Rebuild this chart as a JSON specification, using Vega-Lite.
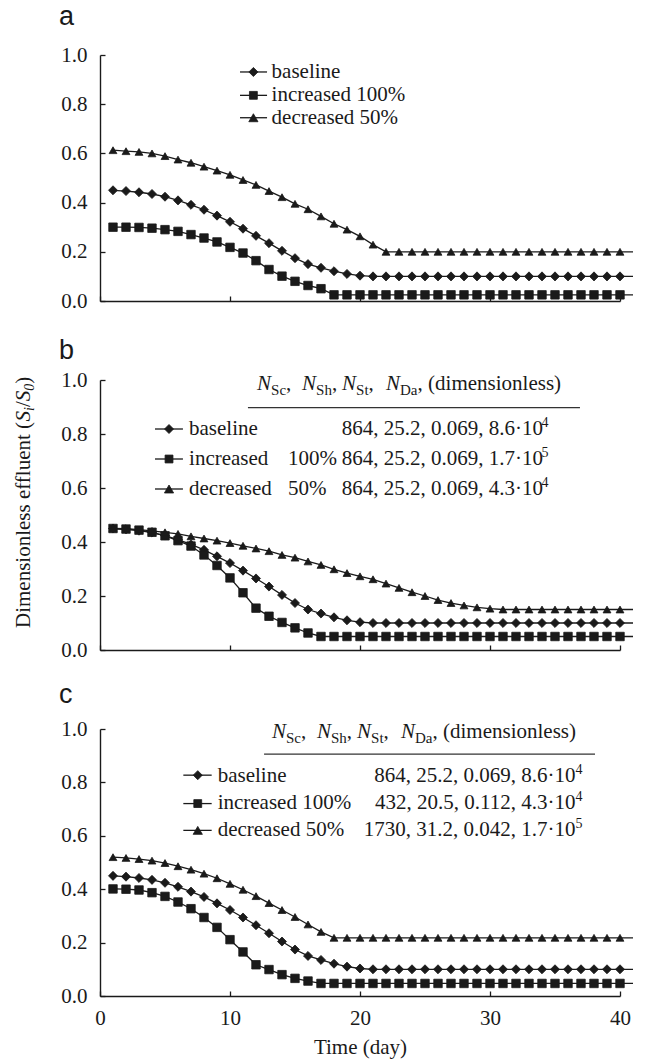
{
  "$schema": "https://vega.github.io/schema/vega-lite/v6.json",
  "background": "white",
  "padding": {"left": 13, "top": 2, "right": 5, "bottom": 5},
  "bounds": "flush",
  "spacing": 79,
  "resolve": {"scale": {"x": "independent", "y": "independent", "shape": "independent", "size": "independent"}},
  "config": {
    "view": {"stroke": null},
    "font": "Liberation Serif",
    "axis": {"grid": false, "domainColor": "#1a1a1a", "domainWidth": 1.4, "tickColor": "#1a1a1a", "tickWidth": 1.3, "tickSize": -5, "labelFont": "Liberation Serif", "labelFontSize": 21, "labelColor": "#1a1a1a", "labelPadding": 18, "labelFlush": false, "titleFont": "Liberation Serif", "titleFontSize": 21, "titleFontWeight": "normal", "titleColor": "#1a1a1a"},
    "axisX": {"labelPadding": 16, "titlePadding": 8},
    "text": {"font": "Liberation Serif", "fontSize": 21, "color": "#1a1a1a"}
  },
  "datasets": {
    "curves": [
      {"panel":"a","day":1,"baseline":0.45,"increased":0.3,"decreased":0.613},
      {"panel":"a","day":2,"baseline":0.447,"increased":0.3,"decreased":0.609},
      {"panel":"a","day":3,"baseline":0.442,"increased":0.299,"decreased":0.606},
      {"panel":"a","day":4,"baseline":0.435,"increased":0.296,"decreased":0.6},
      {"panel":"a","day":5,"baseline":0.424,"increased":0.29,"decreased":0.589},
      {"panel":"a","day":6,"baseline":0.409,"increased":0.283,"decreased":0.575},
      {"panel":"a","day":7,"baseline":0.391,"increased":0.27,"decreased":0.562},
      {"panel":"a","day":8,"baseline":0.371,"increased":0.256,"decreased":0.546},
      {"panel":"a","day":9,"baseline":0.347,"increased":0.24,"decreased":0.53},
      {"panel":"a","day":10,"baseline":0.322,"increased":0.218,"decreased":0.513},
      {"panel":"a","day":11,"baseline":0.294,"increased":0.195,"decreased":0.492},
      {"panel":"a","day":12,"baseline":0.265,"increased":0.164,"decreased":0.472},
      {"panel":"a","day":13,"baseline":0.235,"increased":0.128,"decreased":0.447},
      {"panel":"a","day":14,"baseline":0.204,"increased":0.101,"decreased":0.422},
      {"panel":"a","day":15,"baseline":0.174,"increased":0.08,"decreased":0.395},
      {"panel":"a","day":16,"baseline":0.15,"increased":0.063,"decreased":0.373},
      {"panel":"a","day":17,"baseline":0.135,"increased":0.05,"decreased":0.344},
      {"panel":"a","day":18,"baseline":0.121,"increased":0.025,"decreased":0.314},
      {"panel":"a","day":19,"baseline":0.11,"increased":0.025,"decreased":0.29},
      {"panel":"a","day":20,"baseline":0.103,"increased":0.025,"decreased":0.263},
      {"panel":"a","day":21,"baseline":0.1,"increased":0.025,"decreased":0.229},
      {"panel":"a","day":22,"baseline":0.1,"increased":0.025,"decreased":0.2},
      {"panel":"a","day":23,"baseline":0.1,"increased":0.025,"decreased":0.2},
      {"panel":"a","day":24,"baseline":0.1,"increased":0.025,"decreased":0.2},
      {"panel":"a","day":25,"baseline":0.1,"increased":0.025,"decreased":0.2},
      {"panel":"a","day":26,"baseline":0.1,"increased":0.025,"decreased":0.2},
      {"panel":"a","day":27,"baseline":0.1,"increased":0.025,"decreased":0.2},
      {"panel":"a","day":28,"baseline":0.1,"increased":0.025,"decreased":0.2},
      {"panel":"a","day":29,"baseline":0.1,"increased":0.025,"decreased":0.2},
      {"panel":"a","day":30,"baseline":0.1,"increased":0.025,"decreased":0.2},
      {"panel":"a","day":31,"baseline":0.1,"increased":0.025,"decreased":0.2},
      {"panel":"a","day":32,"baseline":0.1,"increased":0.025,"decreased":0.2},
      {"panel":"a","day":33,"baseline":0.1,"increased":0.025,"decreased":0.2},
      {"panel":"a","day":34,"baseline":0.1,"increased":0.025,"decreased":0.2},
      {"panel":"a","day":35,"baseline":0.1,"increased":0.025,"decreased":0.2},
      {"panel":"a","day":36,"baseline":0.1,"increased":0.025,"decreased":0.2},
      {"panel":"a","day":37,"baseline":0.1,"increased":0.025,"decreased":0.2},
      {"panel":"a","day":38,"baseline":0.1,"increased":0.025,"decreased":0.2},
      {"panel":"a","day":39,"baseline":0.1,"increased":0.025,"decreased":0.2},
      {"panel":"a","day":40,"baseline":0.1,"increased":0.025,"decreased":0.2},
      {"panel":"a","day":41,"baseline":0.1,"increased":0.025,"decreased":0.2},
      {"panel":"b","day":1,"baseline":0.45,"increased":0.45,"decreased":0.45},
      {"panel":"b","day":2,"baseline":0.447,"increased":0.448,"decreased":0.449},
      {"panel":"b","day":3,"baseline":0.442,"increased":0.444,"decreased":0.446},
      {"panel":"b","day":4,"baseline":0.435,"increased":0.436,"decreased":0.441},
      {"panel":"b","day":5,"baseline":0.424,"increased":0.423,"decreased":0.436},
      {"panel":"b","day":6,"baseline":0.409,"increased":0.405,"decreased":0.43},
      {"panel":"b","day":7,"baseline":0.391,"increased":0.385,"decreased":0.421},
      {"panel":"b","day":8,"baseline":0.371,"increased":0.352,"decreased":0.413},
      {"panel":"b","day":9,"baseline":0.347,"increased":0.313,"decreased":0.405},
      {"panel":"b","day":10,"baseline":0.322,"increased":0.267,"decreased":0.396},
      {"panel":"b","day":11,"baseline":0.294,"increased":0.212,"decreased":0.386},
      {"panel":"b","day":12,"baseline":0.265,"increased":0.155,"decreased":0.376},
      {"panel":"b","day":13,"baseline":0.235,"increased":0.125,"decreased":0.366},
      {"panel":"b","day":14,"baseline":0.204,"increased":0.102,"decreased":0.352},
      {"panel":"b","day":15,"baseline":0.174,"increased":0.082,"decreased":0.342},
      {"panel":"b","day":16,"baseline":0.15,"increased":0.063,"decreased":0.328},
      {"panel":"b","day":17,"baseline":0.135,"increased":0.05,"decreased":0.315},
      {"panel":"b","day":18,"baseline":0.121,"increased":0.05,"decreased":0.299},
      {"panel":"b","day":19,"baseline":0.11,"increased":0.05,"decreased":0.285},
      {"panel":"b","day":20,"baseline":0.103,"increased":0.05,"decreased":0.273},
      {"panel":"b","day":21,"baseline":0.1,"increased":0.05,"decreased":0.262},
      {"panel":"b","day":22,"baseline":0.1,"increased":0.05,"decreased":0.246},
      {"panel":"b","day":23,"baseline":0.1,"increased":0.05,"decreased":0.23},
      {"panel":"b","day":24,"baseline":0.1,"increased":0.05,"decreased":0.214},
      {"panel":"b","day":25,"baseline":0.1,"increased":0.05,"decreased":0.2},
      {"panel":"b","day":26,"baseline":0.1,"increased":0.05,"decreased":0.185},
      {"panel":"b","day":27,"baseline":0.1,"increased":0.05,"decreased":0.174},
      {"panel":"b","day":28,"baseline":0.1,"increased":0.05,"decreased":0.165},
      {"panel":"b","day":29,"baseline":0.1,"increased":0.05,"decreased":0.158},
      {"panel":"b","day":30,"baseline":0.1,"increased":0.05,"decreased":0.153},
      {"panel":"b","day":31,"baseline":0.1,"increased":0.05,"decreased":0.15},
      {"panel":"b","day":32,"baseline":0.1,"increased":0.05,"decreased":0.15},
      {"panel":"b","day":33,"baseline":0.1,"increased":0.05,"decreased":0.15},
      {"panel":"b","day":34,"baseline":0.1,"increased":0.05,"decreased":0.15},
      {"panel":"b","day":35,"baseline":0.1,"increased":0.05,"decreased":0.15},
      {"panel":"b","day":36,"baseline":0.1,"increased":0.05,"decreased":0.15},
      {"panel":"b","day":37,"baseline":0.1,"increased":0.05,"decreased":0.15},
      {"panel":"b","day":38,"baseline":0.1,"increased":0.05,"decreased":0.15},
      {"panel":"b","day":39,"baseline":0.1,"increased":0.05,"decreased":0.15},
      {"panel":"b","day":40,"baseline":0.1,"increased":0.05,"decreased":0.15},
      {"panel":"b","day":41,"baseline":0.1,"increased":0.05,"decreased":0.15},
      {"panel":"c","day":1,"baseline":0.45,"increased":0.401,"decreased":0.52},
      {"panel":"c","day":2,"baseline":0.447,"increased":0.4,"decreased":0.517},
      {"panel":"c","day":3,"baseline":0.442,"increased":0.397,"decreased":0.513},
      {"panel":"c","day":4,"baseline":0.435,"increased":0.387,"decreased":0.507},
      {"panel":"c","day":5,"baseline":0.424,"increased":0.373,"decreased":0.498},
      {"panel":"c","day":6,"baseline":0.409,"increased":0.352,"decreased":0.486},
      {"panel":"c","day":7,"baseline":0.391,"increased":0.327,"decreased":0.473},
      {"panel":"c","day":8,"baseline":0.371,"increased":0.294,"decreased":0.458},
      {"panel":"c","day":9,"baseline":0.347,"increased":0.257,"decreased":0.441},
      {"panel":"c","day":10,"baseline":0.322,"increased":0.211,"decreased":0.42},
      {"panel":"c","day":11,"baseline":0.294,"increased":0.165,"decreased":0.398},
      {"panel":"c","day":12,"baseline":0.265,"increased":0.117,"decreased":0.374},
      {"panel":"c","day":13,"baseline":0.235,"increased":0.099,"decreased":0.348},
      {"panel":"c","day":14,"baseline":0.204,"increased":0.08,"decreased":0.322},
      {"panel":"c","day":15,"baseline":0.174,"increased":0.066,"decreased":0.296},
      {"panel":"c","day":16,"baseline":0.15,"increased":0.056,"decreased":0.268},
      {"panel":"c","day":17,"baseline":0.135,"increased":0.047,"decreased":0.24},
      {"panel":"c","day":18,"baseline":0.121,"increased":0.047,"decreased":0.218},
      {"panel":"c","day":19,"baseline":0.11,"increased":0.047,"decreased":0.218},
      {"panel":"c","day":20,"baseline":0.103,"increased":0.047,"decreased":0.218},
      {"panel":"c","day":21,"baseline":0.1,"increased":0.047,"decreased":0.218},
      {"panel":"c","day":22,"baseline":0.1,"increased":0.047,"decreased":0.218},
      {"panel":"c","day":23,"baseline":0.1,"increased":0.047,"decreased":0.218},
      {"panel":"c","day":24,"baseline":0.1,"increased":0.047,"decreased":0.218},
      {"panel":"c","day":25,"baseline":0.1,"increased":0.047,"decreased":0.218},
      {"panel":"c","day":26,"baseline":0.1,"increased":0.047,"decreased":0.218},
      {"panel":"c","day":27,"baseline":0.1,"increased":0.047,"decreased":0.218},
      {"panel":"c","day":28,"baseline":0.1,"increased":0.047,"decreased":0.218},
      {"panel":"c","day":29,"baseline":0.1,"increased":0.047,"decreased":0.218},
      {"panel":"c","day":30,"baseline":0.1,"increased":0.047,"decreased":0.218},
      {"panel":"c","day":31,"baseline":0.1,"increased":0.047,"decreased":0.218},
      {"panel":"c","day":32,"baseline":0.1,"increased":0.047,"decreased":0.218},
      {"panel":"c","day":33,"baseline":0.1,"increased":0.047,"decreased":0.218},
      {"panel":"c","day":34,"baseline":0.1,"increased":0.047,"decreased":0.218},
      {"panel":"c","day":35,"baseline":0.1,"increased":0.047,"decreased":0.218},
      {"panel":"c","day":36,"baseline":0.1,"increased":0.047,"decreased":0.218},
      {"panel":"c","day":37,"baseline":0.1,"increased":0.047,"decreased":0.218},
      {"panel":"c","day":38,"baseline":0.1,"increased":0.047,"decreased":0.218},
      {"panel":"c","day":39,"baseline":0.1,"increased":0.047,"decreased":0.218},
      {"panel":"c","day":40,"baseline":0.1,"increased":0.047,"decreased":0.218},
      {"panel":"c","day":41,"baseline":0.1,"increased":0.047,"decreased":0.218}
    ]
  },
  "vconcat": [
    {
      "width": 520, "height": 246,
      "data": {"values": [{}]},
      "layer": [
        {
          "data": {"name": "curves"},
          "transform": [{"filter": "datum.panel === 'a'"}, {"fold": ["baseline", "increased", "decreased"], "as": ["series", "value"]}],
          "encoding": {
            "x": {"field": "day", "type": "quantitative", "scale": {"domain": [0, 40], "nice": false, "zero": false}, "axis": {"values": [0, 10, 20, 30, 40], "labels": false, "title": null}},
            "y": {"field": "value", "type": "quantitative", "scale": {"domain": [0, 1], "nice": false}, "axis": {"values": [0, 0.2, 0.4, 0.6, 0.8, 1], "format": ".1f", "title": null}}
          },
          "layer": [
            {"mark": {"type": "line", "color": "#1a1a1a", "strokeWidth": 1.3}, "encoding": {"detail": {"field": "series"}}},
            {"transform": [{"filter": "datum.day <= 40"}], "mark": {"type": "point", "filled": true, "opacity": 1, "color": "#1a1a1a", "stroke": "#1a1a1a", "strokeWidth": 0.8}, "encoding": {"shape": {"field": "series", "scale": {"domain": ["baseline", "increased", "decreased"], "range": ["diamond", "square", "triangle-up"]}, "legend": null}, "size": {"field": "series", "scale": {"domain": ["baseline", "increased", "decreased"], "range": [82, 62, 85]}, "legend": null}}}
          ]
        },
        {"mark": {"type": "text", "font": "Liberation Sans", "fontSize": 27, "align": "left", "baseline": "alphabetic"}, "encoding": {"x": {"datum": -3.15}, "y": {"datum": 1.122}, "text": {"value": "a"}}},
        {"mark": {"type": "rule", "color": "#1a1a1a", "strokeWidth": 1.3}, "encoding": {"x": {"datum": 10.77}, "x2": {"datum": 12.85}, "y": {"datum": 0.931}}},
        {"mark": {"type": "rule", "color": "#1a1a1a", "strokeWidth": 1.3}, "encoding": {"x": {"datum": 10.77}, "x2": {"datum": 12.85}, "y": {"datum": 0.836}}},
        {"mark": {"type": "rule", "color": "#1a1a1a", "strokeWidth": 1.3}, "encoding": {"x": {"datum": 10.77}, "x2": {"datum": 12.85}, "y": {"datum": 0.745}}},
        {"mark": {"type": "point", "shape": "diamond", "filled": true, "opacity": 1, "size": 82, "color": "#1a1a1a", "stroke": "#1a1a1a", "strokeWidth": 0.8}, "encoding": {"x": {"datum": 11.8}, "y": {"datum": 0.931}}},
        {"mark": {"type": "point", "shape": "square", "filled": true, "opacity": 1, "size": 62, "color": "#1a1a1a", "stroke": "#1a1a1a", "strokeWidth": 0.8}, "encoding": {"x": {"datum": 11.8}, "y": {"datum": 0.836}}},
        {"mark": {"type": "point", "shape": "triangle-up", "filled": true, "opacity": 1, "size": 85, "color": "#1a1a1a", "stroke": "#1a1a1a", "strokeWidth": 0.8}, "encoding": {"x": {"datum": 11.8}, "y": {"datum": 0.745}}},
        {"mark": {"type": "text", "align": "left", "baseline": "alphabetic", "lineHeight": 22.8}, "encoding": {"x": {"datum": 13.2}, "y": {"datum": 0.9065}, "text": {"value": ["baseline", "increased 100%", "decreased 50%"]}}}
      ]
    },
    {
      "width": 520, "height": 270,
      "data": {"values": [{}]},
      "layer": [
        {
          "data": {"name": "curves"},
          "transform": [{"filter": "datum.panel === 'b'"}, {"fold": ["baseline", "increased", "decreased"], "as": ["series", "value"]}],
          "encoding": {
            "x": {"field": "day", "type": "quantitative", "scale": {"domain": [0, 40], "nice": false, "zero": false}, "axis": {"values": [0, 10, 20, 30, 40], "labels": false, "title": null}},
            "y": {"field": "value", "type": "quantitative", "scale": {"domain": [0, 1], "nice": false}, "axis": {"values": [0, 0.2, 0.4, 0.6, 0.8, 1], "format": ".1f", "title": null}}
          },
          "layer": [
            {"mark": {"type": "line", "color": "#1a1a1a", "strokeWidth": 1.3}, "encoding": {"detail": {"field": "series"}}},
            {"transform": [{"filter": "datum.day <= 40"}], "mark": {"type": "point", "filled": true, "opacity": 1, "color": "#1a1a1a", "stroke": "#1a1a1a", "strokeWidth": 0.8}, "encoding": {"shape": {"field": "series", "scale": {"domain": ["baseline", "increased", "decreased"], "range": ["diamond", "square", "triangle-up"]}, "legend": null}, "size": {"field": "series", "scale": {"domain": ["baseline", "increased", "decreased"], "range": [82, 62, 85]}, "legend": null}}}
          ]
        },
        {"mark": {"type": "text", "font": "Liberation Sans", "fontSize": 27, "align": "left", "baseline": "alphabetic"}, "encoding": {"x": {"datum": -3.15}, "y": {"datum": 1.0778}, "text": {"value": "b"}}},
        {"mark": {"type": "text", "angle": 270, "align": "left", "baseline": "alphabetic"}, "encoding": {"x": {"datum": -5.38}, "y": {"datum": 0.0815}, "text": {"value": "Dimensionless effluent ("}}},
        {"mark": {"type": "text", "angle": 270, "align": "left", "baseline": "alphabetic", "fontStyle": "italic"}, "encoding": {"x": {"datum": -5.38}, "y": {"datum": 0.8463}, "text": {"value": "S"}}},
        {"mark": {"type": "text", "angle": 270, "align": "left", "baseline": "alphabetic", "fontStyle": "italic", "fontSize": 14, "dy": 4}, "encoding": {"x": {"datum": -5.38}, "y": {"datum": 0.8852}, "text": {"value": "i"}}},
        {"mark": {"type": "text", "angle": 270, "align": "left", "baseline": "alphabetic"}, "encoding": {"x": {"datum": -5.38}, "y": {"datum": 0.8996}, "text": {"value": "/"}}},
        {"mark": {"type": "text", "angle": 270, "align": "left", "baseline": "alphabetic", "fontStyle": "italic"}, "encoding": {"x": {"datum": -5.38}, "y": {"datum": 0.9211}, "text": {"value": "S"}}},
        {"mark": {"type": "text", "angle": 270, "align": "left", "baseline": "alphabetic", "fontStyle": "italic", "fontSize": 14, "dy": 4}, "encoding": {"x": {"datum": -5.38}, "y": {"datum": 0.96}, "text": {"value": "0"}}},
        {"mark": {"type": "text", "angle": 270, "align": "left", "baseline": "alphabetic"}, "encoding": {"x": {"datum": -5.38}, "y": {"datum": 0.9859}, "text": {"value": ")"}}},
        {"mark": {"type": "text", "align": "left", "baseline": "alphabetic", "fontStyle": "italic"}, "encoding": {"x": {"datum": 12.08}, "y": {"datum": 0.963}, "text": {"value": "N"}}},
        {"mark": {"type": "text", "align": "left", "baseline": "alphabetic", "fontStyle": "italic"}, "encoding": {"x": {"datum": 15.54}, "y": {"datum": 0.963}, "text": {"value": "N"}}},
        {"mark": {"type": "text", "align": "left", "baseline": "alphabetic", "fontStyle": "italic"}, "encoding": {"x": {"datum": 18.62}, "y": {"datum": 0.963}, "text": {"value": "N"}}},
        {"mark": {"type": "text", "align": "left", "baseline": "alphabetic", "fontStyle": "italic"}, "encoding": {"x": {"datum": 22.0}, "y": {"datum": 0.963}, "text": {"value": "N"}}},
        {"mark": {"type": "text", "align": "left", "baseline": "alphabetic", "fontSize": 15, "dy": 5}, "encoding": {"x": {"datum": 13.16}, "y": {"datum": 0.963}, "text": {"value": "Sc"}}},
        {"mark": {"type": "text", "align": "left", "baseline": "alphabetic", "fontSize": 15, "dy": 5}, "encoding": {"x": {"datum": 16.62}, "y": {"datum": 0.963}, "text": {"value": "Sh"}}},
        {"mark": {"type": "text", "align": "left", "baseline": "alphabetic", "fontSize": 15, "dy": 5}, "encoding": {"x": {"datum": 19.7}, "y": {"datum": 0.963}, "text": {"value": "St"}}},
        {"mark": {"type": "text", "align": "left", "baseline": "alphabetic", "fontSize": 15, "dy": 5}, "encoding": {"x": {"datum": 23.08}, "y": {"datum": 0.963}, "text": {"value": "Da"}}},
        {"mark": {"type": "text", "align": "left", "baseline": "alphabetic"}, "encoding": {"x": {"datum": 14.31}, "y": {"datum": 0.963}, "text": {"value": ","}}},
        {"mark": {"type": "text", "align": "left", "baseline": "alphabetic"}, "encoding": {"x": {"datum": 17.84}, "y": {"datum": 0.963}, "text": {"value": ","}}},
        {"mark": {"type": "text", "align": "left", "baseline": "alphabetic"}, "encoding": {"x": {"datum": 20.66}, "y": {"datum": 0.963}, "text": {"value": ","}}},
        {"mark": {"type": "text", "align": "left", "baseline": "alphabetic"}, "encoding": {"x": {"datum": 24.43}, "y": {"datum": 0.963}, "text": {"value": ", (dimensionless)"}}},
        {"mark": {"type": "rule", "color": "#333333", "strokeWidth": 1.3}, "encoding": {"x": {"datum": 11.38}, "x2": {"datum": 36.92}, "y": {"datum": 0.898}}},
        {"mark": {"type": "rule", "color": "#1a1a1a", "strokeWidth": 1.3}, "encoding": {"x": {"datum": 4.23}, "x2": {"datum": 6.38}, "y": {"datum": 0.8185}}},
        {"mark": {"type": "rule", "color": "#1a1a1a", "strokeWidth": 1.3}, "encoding": {"x": {"datum": 4.23}, "x2": {"datum": 6.38}, "y": {"datum": 0.7074}}},
        {"mark": {"type": "rule", "color": "#1a1a1a", "strokeWidth": 1.3}, "encoding": {"x": {"datum": 4.23}, "x2": {"datum": 6.38}, "y": {"datum": 0.5963}}},
        {"mark": {"type": "point", "shape": "diamond", "filled": true, "opacity": 1, "size": 82, "color": "#1a1a1a", "stroke": "#1a1a1a", "strokeWidth": 0.8}, "encoding": {"x": {"datum": 5.31}, "y": {"datum": 0.8185}}},
        {"mark": {"type": "point", "shape": "square", "filled": true, "opacity": 1, "size": 62, "color": "#1a1a1a", "stroke": "#1a1a1a", "strokeWidth": 0.8}, "encoding": {"x": {"datum": 5.31}, "y": {"datum": 0.7074}}},
        {"mark": {"type": "point", "shape": "triangle-up", "filled": true, "opacity": 1, "size": 85, "color": "#1a1a1a", "stroke": "#1a1a1a", "strokeWidth": 0.8}, "encoding": {"x": {"datum": 5.31}, "y": {"datum": 0.5963}}},
        {"mark": {"type": "text", "align": "left", "baseline": "alphabetic", "lineHeight": 30}, "encoding": {"x": {"datum": 6.85}, "y": {"datum": 0.7963}, "text": {"value": ["baseline", "increased", "decreased"]}}},
        {"mark": {"type": "text", "align": "left", "baseline": "alphabetic", "lineHeight": 30}, "encoding": {"x": {"datum": 14.46}, "y": {"datum": 0.6852}, "text": {"value": ["100%", "50%"]}}},
        {"mark": {"type": "text", "align": "left", "baseline": "alphabetic", "lineHeight": 30}, "encoding": {"x": {"datum": 18.6}, "y": {"datum": 0.7963}, "text": {"value": ["864, 25.2, 0.069, 8.6·10", "864, 25.2, 0.069, 1.7·10", "864, 25.2, 0.069, 4.3·10"]}}},
        {"mark": {"type": "text", "align": "left", "baseline": "alphabetic", "lineHeight": 30, "fontSize": 14, "dy": -8}, "encoding": {"x": {"datum": 33.96}, "y": {"datum": 0.7963}, "text": {"value": ["4", "5", "4"]}}}
      ]
    },
    {
      "width": 520, "height": 267,
      "data": {"values": [{}]},
      "layer": [
        {
          "data": {"name": "curves"},
          "transform": [{"filter": "datum.panel === 'c'"}, {"fold": ["baseline", "increased", "decreased"], "as": ["series", "value"]}],
          "encoding": {
            "x": {"field": "day", "type": "quantitative", "scale": {"domain": [0, 40], "nice": false, "zero": false}, "axis": {"values": [0, 10, 20, 30, 40], "format": "d", "title": "Time (day)"}},
            "y": {"field": "value", "type": "quantitative", "scale": {"domain": [0, 1], "nice": false}, "axis": {"values": [0, 0.2, 0.4, 0.6, 0.8, 1], "format": ".1f", "title": null}}
          },
          "layer": [
            {"mark": {"type": "line", "color": "#1a1a1a", "strokeWidth": 1.3}, "encoding": {"detail": {"field": "series"}}},
            {"transform": [{"filter": "datum.day <= 40"}], "mark": {"type": "point", "filled": true, "opacity": 1, "color": "#1a1a1a", "stroke": "#1a1a1a", "strokeWidth": 0.8}, "encoding": {"shape": {"field": "series", "scale": {"domain": ["baseline", "increased", "decreased"], "range": ["diamond", "square", "triangle-up"]}, "legend": null}, "size": {"field": "series", "scale": {"domain": ["baseline", "increased", "decreased"], "range": [82, 62, 85]}, "legend": null}}}
          ]
        },
        {"mark": {"type": "text", "font": "Liberation Sans", "fontSize": 27, "align": "left", "baseline": "alphabetic"}, "encoding": {"x": {"datum": -3.15}, "y": {"datum": 1.0977}, "text": {"value": "c"}}},
        {"mark": {"type": "text", "align": "left", "baseline": "alphabetic", "fontStyle": "italic"}, "encoding": {"x": {"datum": 13.23}, "y": {"datum": 0.9662}, "text": {"value": "N"}}},
        {"mark": {"type": "text", "align": "left", "baseline": "alphabetic", "fontStyle": "italic"}, "encoding": {"x": {"datum": 16.69}, "y": {"datum": 0.9662}, "text": {"value": "N"}}},
        {"mark": {"type": "text", "align": "left", "baseline": "alphabetic", "fontStyle": "italic"}, "encoding": {"x": {"datum": 19.77}, "y": {"datum": 0.9662}, "text": {"value": "N"}}},
        {"mark": {"type": "text", "align": "left", "baseline": "alphabetic", "fontStyle": "italic"}, "encoding": {"x": {"datum": 23.15}, "y": {"datum": 0.9662}, "text": {"value": "N"}}},
        {"mark": {"type": "text", "align": "left", "baseline": "alphabetic", "fontSize": 15, "dy": 5}, "encoding": {"x": {"datum": 14.31}, "y": {"datum": 0.9662}, "text": {"value": "Sc"}}},
        {"mark": {"type": "text", "align": "left", "baseline": "alphabetic", "fontSize": 15, "dy": 5}, "encoding": {"x": {"datum": 17.77}, "y": {"datum": 0.9662}, "text": {"value": "Sh"}}},
        {"mark": {"type": "text", "align": "left", "baseline": "alphabetic", "fontSize": 15, "dy": 5}, "encoding": {"x": {"datum": 20.85}, "y": {"datum": 0.9662}, "text": {"value": "St"}}},
        {"mark": {"type": "text", "align": "left", "baseline": "alphabetic", "fontSize": 15, "dy": 5}, "encoding": {"x": {"datum": 24.23}, "y": {"datum": 0.9662}, "text": {"value": "Da"}}},
        {"mark": {"type": "text", "align": "left", "baseline": "alphabetic"}, "encoding": {"x": {"datum": 15.46}, "y": {"datum": 0.9662}, "text": {"value": ","}}},
        {"mark": {"type": "text", "align": "left", "baseline": "alphabetic"}, "encoding": {"x": {"datum": 18.99}, "y": {"datum": 0.9662}, "text": {"value": ","}}},
        {"mark": {"type": "text", "align": "left", "baseline": "alphabetic"}, "encoding": {"x": {"datum": 21.81}, "y": {"datum": 0.9662}, "text": {"value": ","}}},
        {"mark": {"type": "text", "align": "left", "baseline": "alphabetic"}, "encoding": {"x": {"datum": 25.58}, "y": {"datum": 0.9662}, "text": {"value": ", (dimensionless)"}}},
        {"mark": {"type": "rule", "color": "#333333", "strokeWidth": 1.3}, "encoding": {"x": {"datum": 12.62}, "x2": {"datum": 38.08}, "y": {"datum": 0.906}}},
        {"mark": {"type": "rule", "color": "#1a1a1a", "strokeWidth": 1.3}, "encoding": {"x": {"datum": 6.41}, "x2": {"datum": 8.59}, "y": {"datum": 0.8271}}},
        {"mark": {"type": "rule", "color": "#1a1a1a", "strokeWidth": 1.3}, "encoding": {"x": {"datum": 6.41}, "x2": {"datum": 8.59}, "y": {"datum": 0.7207}}},
        {"mark": {"type": "rule", "color": "#1a1a1a", "strokeWidth": 1.3}, "encoding": {"x": {"datum": 6.41}, "x2": {"datum": 8.59}, "y": {"datum": 0.6203}}},
        {"mark": {"type": "point", "shape": "diamond", "filled": true, "opacity": 1, "size": 82, "color": "#1a1a1a", "stroke": "#1a1a1a", "strokeWidth": 0.8}, "encoding": {"x": {"datum": 7.52}, "y": {"datum": 0.8271}}},
        {"mark": {"type": "point", "shape": "square", "filled": true, "opacity": 1, "size": 62, "color": "#1a1a1a", "stroke": "#1a1a1a", "strokeWidth": 0.8}, "encoding": {"x": {"datum": 7.52}, "y": {"datum": 0.7207}}},
        {"mark": {"type": "point", "shape": "triangle-up", "filled": true, "opacity": 1, "size": 85, "color": "#1a1a1a", "stroke": "#1a1a1a", "strokeWidth": 0.8}, "encoding": {"x": {"datum": 7.52}, "y": {"datum": 0.6203}}},
        {"mark": {"type": "text", "align": "left", "baseline": "alphabetic", "lineHeight": 27.3}, "encoding": {"x": {"datum": 9.05}, "y": {"datum": 0.8026}, "text": {"value": ["baseline", "increased 100%", "decreased 50%"]}}},
        {"mark": {"type": "text", "align": "right", "baseline": "alphabetic", "lineHeight": 27.3}, "encoding": {"x": {"datum": 36.58}, "y": {"datum": 0.8026}, "text": {"value": ["864, 25.2, 0.069, 8.6·10", "432, 20.5, 0.112, 4.3·10", "1730, 31.2, 0.042, 1.7·10"]}}},
        {"mark": {"type": "text", "align": "left", "baseline": "alphabetic", "lineHeight": 27.3, "fontSize": 14, "dy": -8}, "encoding": {"x": {"datum": 36.58}, "y": {"datum": 0.8026}, "text": {"value": ["4", "4", "5"]}}}
      ]
    }
  ]
}
